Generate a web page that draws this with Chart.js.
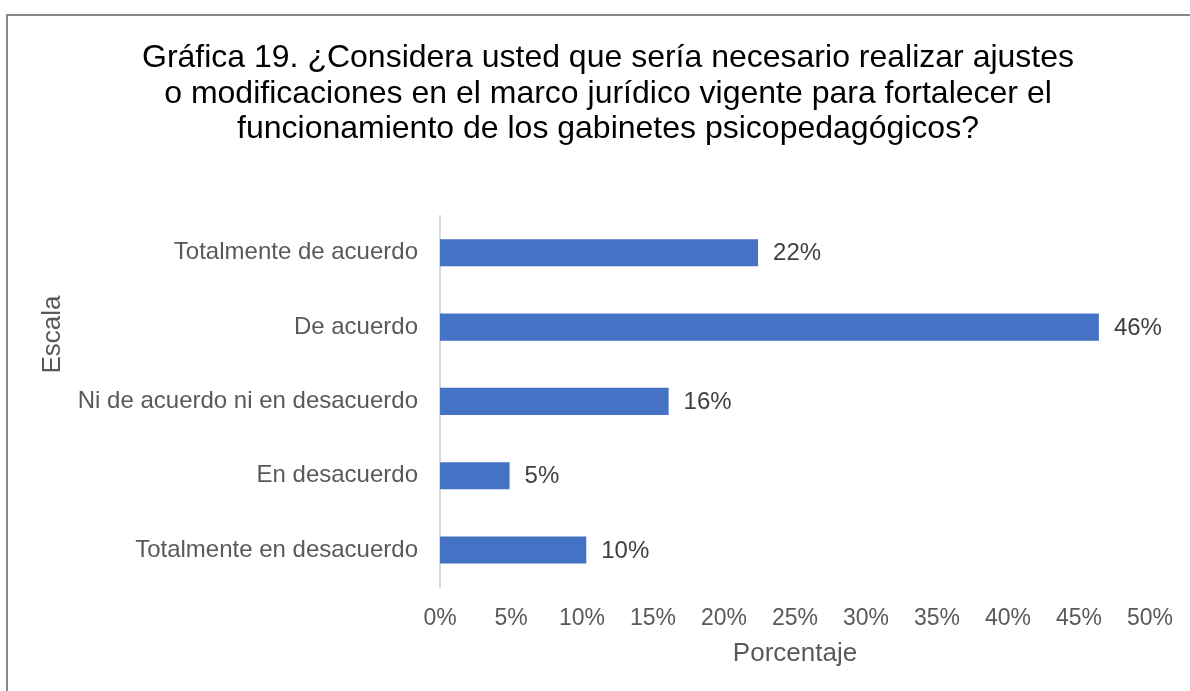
<!DOCTYPE html>
<html>
<head>
<meta charset="utf-8">
<script src="https://cdn.jsdelivr.net/npm/chart.js@4"></script>
<style>
  body { margin: 0; background: #fff; overflow: hidden; }
  #frame {
    position: absolute; left: 6px; top: 14px; width: 1300px; height: 800px;
    border-top: 2px solid #878787; border-left: 2px solid #878787;
  }
  canvas { display: block; }
</style>
</head>
<body>
<div id="frame"><canvas id="myChart" width="1200" height="675"></canvas></div>
<script>
const categories = ["Totalmente de acuerdo", "De acuerdo", "Ni de acuerdo ni en desacuerdo", "En desacuerdo", "Totalmente en desacuerdo"];
const percentages = [22.4, 46.4, 16.1, 4.9, 10.3];
const titleLines = [
  "Gráfica 19. ¿Considera usted que sería necesario realizar ajustes",
  "o modificaciones en el marco jurídico vigente para fortalecer el",
  "funcionamiento de los gabinetes psicopedagógicos?"
];
const xTitle = "Porcentaje";
const yTitle = "Escala";

const fontFamily = '"Liberation Sans", Arial, sans-serif';

// value labels next to each bar
const barLabels = {
  id: 'barLabels',
  afterDatasetsDraw(chart) {
    const ctx = chart.ctx;
    ctx.save();
    ctx.font = '24px ' + fontFamily;
    ctx.fillStyle = '#404040';
    ctx.textAlign = 'left';
    ctx.textBaseline = 'middle';
    chart.getDatasetMeta(0).data.forEach((bar, i) => {
      ctx.fillText(Math.round(percentages[i]) + '%', bar.x + 15, bar.y + 1);
    });
    ctx.restore();
  }
};

// "Escala" sits a bit above the middle of the axis
const yAxisTitle = {
  id: 'yAxisTitle',
  afterDraw(chart) {
    const ctx = chart.ctx;
    const area = chart.chartArea;
    ctx.save();
    ctx.translate(45, area.top + (area.bottom - area.top) * 0.32);
    ctx.rotate(-Math.PI / 2);
    ctx.font = '26px ' + fontFamily;
    ctx.fillStyle = '#595959';
    ctx.textAlign = 'center';
    ctx.textBaseline = 'middle';
    ctx.fillText(yTitle, 0, 0);
    ctx.restore();
  }
};

const ctx = document.getElementById("myChart").getContext('2d');
const myChart = new Chart(ctx, {
  type: 'bar',
  data: {
    labels: categories,
    datasets: [{
      data: percentages,
      backgroundColor: '#4472C4',
      borderWidth: 0,
      barPercentage: 0.365,
      categoryPercentage: 1
    }]
  },
  options: {
    indexAxis: 'y',
    responsive: false,
    animation: false,
    layout: { padding: { left: 58, right: 58, top: 0, bottom: 22 } },
    plugins: {
      legend: { display: false },
      tooltip: { enabled: false },
      title: {
        display: true,
        text: titleLines,
        color: '#000',
        font: { family: fontFamily, size: 32, weight: 'normal', lineHeight: 1.1 },
        padding: { top: 25, bottom: 69 }
      }
    },
    scales: {
      x: {
        min: 0,
        max: 50,
        grid: { display: false, drawTicks: false },
        border: { display: false },
        ticks: {
          stepSize: 5,
          padding: 18,
          color: '#595959',
          font: { family: fontFamily, size: 23 },
          callback: v => v + '%'
        },
        title: {
          display: true,
          text: xTitle,
          color: '#595959',
          font: { family: fontFamily, size: 26 },
          padding: { top: -13, bottom: 0 }
        }
      },
      y: {
        grid: { display: false, drawTicks: false },
        border: { display: true, color: '#d9d9d9', width: 2 },
        ticks: {
          padding: 22,
          color: '#595959',
          font: { family: fontFamily, size: 24 }
        },
        afterFit(scale) { scale.width = 374; }
      }
    }
  },
  plugins: [barLabels, yAxisTitle]
});
</script>
</body>
</html>
